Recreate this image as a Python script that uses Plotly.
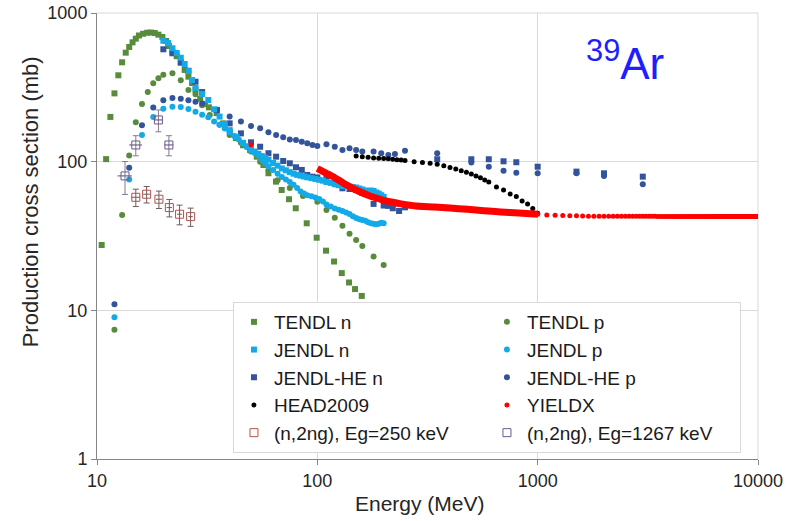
import plotly.graph_objects as go

# ---------------- data ----------------
tendl_n_E = [10.5, 11.0, 11.5, 12.0, 12.5, 13.0, 13.5, 14.0, 14.5, 15.0, 15.5, 16.2, 16.9, 17.6, 18.3, 19.0,
             19.8, 20.6, 21.2, 22.0, 23.0, 24.0, 25.0, 26.0, 27.0, 28.0, 29.4, 30.9, 32.2, 34.9, 37.4, 40.1,
             42.7, 46.0, 49.5, 53.1, 56.9, 60.0, 64.9, 68.9, 74.4, 79.8, 89.5, 99.3, 109.5, 119.1, 129.1,
             139.3, 148.3, 159.1]
tendl_n_xs = [27.5, 104, 200, 288, 381, 466, 541, 591, 635, 672, 706, 725, 737, 739, 733, 715,
              690, 648, 600, 547, 512, 463, 414, 373, 338, 303, 265, 244, 232, 212, 181, 159,
              144, 129, 120, 108, 95, 83.6, 73.4, 64.5, 55.9, 48.6, 38.5, 30.8, 25.2, 21.3, 17.8,
              15.4, 13.9, 12.5]

tendl_p_E = [12, 13, 14, 15, 16, 17, 18, 19, 20, 22, 24, 26, 28, 30, 32.5, 36, 40, 45, 50, 55, 60, 66,
             75, 86, 100, 110, 120, 130, 140, 150, 160, 180, 200]
tendl_p_xs = [7.4, 43.8, 110, 184, 244, 294, 337, 364, 385, 393, 353, 303, 284, 240, 206, 177, 151, 134,
              117, 100, 88, 75, 66.6, 58.8, 53.8, 47.3, 42.0, 37.0, 32.7, 29.7, 27.1, 23.0, 20.2]

jendl_n_E = [20, 21, 22, 23, 24, 25, 26, 27, 28, 30, 32, 34, 36, 38, 40, 43, 46, 48, 50, 52, 54, 56, 58,
             60, 63, 66, 69, 72, 75, 78, 81, 84, 87, 90, 94, 98, 102, 106, 110, 115, 120, 125, 130, 135,
             140, 145, 150, 155, 160, 165, 170, 175, 180, 185, 190, 195, 200]
jendl_n_xs = [651, 628, 579, 538, 500, 454, 407, 354, 313, 285, 260, 225, 201, 179, 163, 147, 134, 127,
              122, 117, 113, 109, 106, 103, 98, 94, 90, 87.5, 85, 83, 81.5, 80.5, 79.5, 78.5, 77.5, 76.5,
              75.5, 74.5, 73, 72, 70.5, 69.5, 68.5, 68.5, 68, 67.5, 67, 66, 65, 64, 63, 64, 63.5, 62, 61,
              59.5, 58]

jendl_p_E = [12, 14, 16, 18, 20, 22, 24, 26, 28, 30, 32, 34, 36, 38, 40, 42, 44, 46, 48, 50, 52, 54, 56,
             58, 60, 63, 66, 69, 72, 75, 78, 81, 84, 87, 90, 94, 98, 102, 106, 110, 115, 120, 125, 130,
             135, 140, 145, 150, 155, 160, 165, 170, 175, 180, 185, 190, 195, 200]
jendl_p_xs = [9.0, 76, 151, 200, 227, 234, 233, 226, 217, 207, 199, 186, 177, 167, 158, 149, 141, 133,
              125, 119, 114.5, 110, 103, 98, 93, 88, 83, 79, 76, 73, 70, 66.5, 63, 61, 59.5, 58.5, 57.5,
              56, 54, 51.5, 50, 48.5, 47.5, 46.5, 45.5, 44.5, 43, 41.8, 41, 40.5, 40, 39.2, 38.6, 38.2,
              38, 38.3, 38.8, 38.6]

jendlhe_n_E = [20, 22, 24, 26, 28, 30, 35, 40, 45, 50, 55, 60, 65, 70, 75, 80, 85, 90, 95, 100, 110, 120,
               130, 140, 150, 160, 180, 200, 210, 220, 235, 250, 350, 500, 600, 700, 800, 1000, 1500,
               2000, 3000]
jendlhe_n_xs = [570, 536, 466, 409, 345, 294, 223, 181, 155, 135, 126, 114, 108, 101, 97.5, 91.7, 88,
                81.4, 79.3, 78.3, 77.1, 74.7, 66.2, 65.5, 64.5, 61.6, 52, 50.7, 50.4, 48.6, 46.6, 49.3,
                103.8, 103.8, 103.8, 100.6, 99.1, 92.5, 85.7, 83.5, 79.3]

jendlhe_p_E = [12, 14, 16, 18, 20, 22, 24, 26, 28, 30, 35, 40, 45, 50, 55, 60, 65, 70, 75, 80, 85, 90, 95,
               100, 110, 120, 130, 140, 150, 160, 180, 195, 210, 225, 250, 350, 500, 600, 700, 800, 1000,
               1500, 2000, 3000]
jendlhe_p_xs = [11.0, 91, 176, 231, 259, 268, 265, 259, 253, 246, 223, 201, 186, 174, 168, 158, 151, 146,
                141, 140, 136, 133, 129.5, 127.5, 131, 126, 120, 123, 120, 117, 117, 114, 111, 112.6,
                118.6, 114, 98.8, 92.5, 87.0, 84.3, 83.5, 83.5, 80.1, 70.5]

head_E = [150, 160, 170, 180, 190, 200, 210, 220, 230, 240, 250, 275, 300, 325, 350, 375, 400, 425, 450,
          475, 500, 525, 550, 575, 600, 650, 700, 750, 800, 850, 900, 950, 1000]
head_xs = [109, 108, 107, 106, 105.5, 105, 104.5, 104, 103, 102.5, 102, 100, 98.8, 97.5, 96, 94, 91.4,
           89.3, 87, 84.9, 82.7, 80.2, 77.8, 75.3, 73.1, 67.6, 64.5, 60.7, 58.2, 54.4, 51.9, 48.4, 45.0]

# YIELDX: dense part (drawn as continuous thick trace) and sparse dots
yieldx_line_E = [100, 110, 120, 130, 140, 155, 170, 185, 200, 220, 240, 280, 340, 400, 480, 570, 680,
                 820, 1000]
yieldx_line_xs = [90, 83.5, 78, 72.5, 68, 63, 59.5, 57, 55, 53.3, 52, 50.3, 49.6, 48.8, 47.8, 46.8, 45.9,
                  45.1, 44.3]
yieldx_dot_E = [50] + list(range(1000, 10001, 100))
yieldx_dot_xs = [130,
                 44.3, 43.8, 43.6, 43.4, 43.3, 43.2, 43.1, 43.0, 43.0, 42.9,
                 42.9, 42.9, 42.9, 42.9, 42.9, 42.9, 42.9, 42.9, 42.9, 42.9,
                 42.9, 42.9, 42.9, 42.9, 42.9, 42.8, 42.8, 42.8, 42.8, 42.8,
                 42.8, 42.8, 42.8, 42.8, 42.8, 42.8, 42.8, 42.8, 42.8, 42.8,
                 42.8, 42.8, 42.8, 42.8, 42.8, 42.8, 42.8, 42.8, 42.8, 42.8,
                 42.8, 42.8, 42.8, 42.8, 42.8, 42.8, 42.8, 42.8, 42.8, 42.8,
                 42.8, 42.8, 42.8, 42.8, 42.8, 42.8, 42.8, 42.8, 42.8, 42.8,
                 42.8, 42.8, 42.8, 42.8, 42.8, 42.8, 42.8, 42.8, 42.8, 42.8,
                 42.8, 42.8, 42.8, 42.8, 42.8, 42.8, 42.8, 42.8, 42.8, 42.8,
                 42.8]

exp250_E = [15.0, 16.8, 19.1, 21.3, 23.7, 26.6]
exp250_xs = [57.6, 60.4, 55.9, 49.1, 44.3, 42.7]
exp250_dxs = [7.7, 7.7, 7.5, 6.6, 6.7, 6.0]
exp250_dE = [0.7, 0.6, 0.6, 0.6, 0.6, 0.6]

exp1267_E = [13.4, 15.0, 19.0, 21.2]
exp1267_xs = [80.2, 129.5, 190.8, 129.5]
exp1267_dxs = [20, 20, 32, 20]
exp1267_dE = [1.0, 1.0, 0.8, 1.0]

x_tickvals = [10, 100, 1000, 10000]
x_ticktext = ["10", "100", "1000", "10000"]
y_tickvals = [1, 10, 100, 1000]
y_ticktext = ["1", "10", "100", "1000"]

# ---------------- styling ----------------
GREEN = "#588B3B"
LBLUE = "#14AAE8"
DBLUE = "#33539B"
RED = "#FF0000"
GRID = "#d9d9d9"
TXT = "#262626"
FONT = "Liberation Sans, Arial, sans-serif"

fig = go.Figure()


def pts(name, x, y, symbol, color, size, rank, **kw):
    fig.add_trace(go.Scatter(x=x, y=y, name=name, mode="markers", legendrank=rank,
                             marker=dict(symbol=symbol, color=color, size=size, line=dict(width=0)),
                             **kw))


pts("TENDL n", tendl_n_E, tendl_n_xs, "square", GREEN, 6, 1)
pts("TENDL p", tendl_p_E, tendl_p_xs, "circle", GREEN, 6, 2)
pts("JENDL-HE p", jendlhe_p_E, jendlhe_p_xs, "circle", DBLUE, 6, 6)
pts("JENDL-HE n", jendlhe_n_E, jendlhe_n_xs, "square", DBLUE, 6, 5)
pts("JENDL p", jendl_p_E, jendl_p_xs, "circle", LBLUE, 6, 4)
pts("JENDL n", jendl_n_E, jendl_n_xs, "square", LBLUE, 6, 3)
pts("HEAD2009", head_E, head_xs, "circle", "#000000", 5, 7)

fig.add_trace(go.Scatter(x=yieldx_line_E, y=yieldx_line_xs, mode="lines", name="YIELDX",
                         legendgroup="yieldx", showlegend=False,
                         line=dict(color=RED, width=7, shape="spline", smoothing=0.6)))
pts("YIELDX", yieldx_dot_E, yieldx_dot_xs, "circle", RED, 5, 8, legendgroup="yieldx")

fig.add_trace(go.Scatter(
    x=exp250_E, y=exp250_xs, name="(n,2ng), Eg=250 keV", mode="markers", legendrank=9,
    marker=dict(symbol="square-open", color="#B4504B", size=8, line=dict(width=1)),
    error_y=dict(type="data", array=exp250_dxs, color="#6e5c5c", thickness=1, width=3),
    error_x=dict(type="data", array=exp250_dE, color="#6e5c5c", thickness=1, width=0)))
fig.add_trace(go.Scatter(
    x=exp1267_E, y=exp1267_xs, name="(n,2ng), Eg=1267 keV", mode="markers", legendrank=10,
    marker=dict(symbol="square-open", color="#6B5A8E", size=8, line=dict(width=1)),
    error_y=dict(type="data", array=exp1267_dxs, color="#857a92", thickness=1, width=3),
    error_x=dict(type="data", array=exp1267_dE, color="#5a4a70", thickness=1, width=0)))

axis_common = dict(
    type="log", showgrid=True, gridcolor=GRID, gridwidth=1, automargin=False,
    showline=True, linecolor="#868686", linewidth=1,
    ticks="outside", ticklen=5, tickcolor="#868686",
    tickfont=dict(family=FONT, size=18, color=TXT),
    zeroline=False,
)

fig.update_layout(
    width=792, height=521,
    margin=dict(l=97, r=34, t=13, b=62),
    paper_bgcolor="white", plot_bgcolor="white",
    font=dict(family=FONT, color=TXT),
    xaxis=dict(axis_common, range=[1, 4], tickvals=x_tickvals, ticktext=x_ticktext),
    yaxis=dict(axis_common, range=[0, 3], tickvals=y_tickvals, ticktext=y_ticktext),
    legend=dict(orientation="h", x=0.2057, y=0.352, xanchor="left", yanchor="top",
                entrywidth=208, entrywidthmode="pixels",
                font=dict(family=FONT, size=19, color="#1a1a1a"),
                bgcolor="white", bordercolor=GRID, borderwidth=1,
                traceorder="normal", tracegroupgap=0, itemclick=False),
    showlegend=True,
    shapes=[dict(type="line", xref="paper", yref="paper", x0=1, x1=1, y0=0, y1=1,
                 line=dict(color=GRID, width=1), layer="below"),
            dict(type="line", xref="paper", yref="paper", x0=0, x1=1, y0=1, y1=1,
                 line=dict(color=GRID, width=1), layer="below")],
    annotations=[
        dict(text="<sup>39</sup>Ar", xref="paper", yref="paper", x=0.799, y=0.893,
             xanchor="center", yanchor="middle", showarrow=False,
             font=dict(family=FONT, size=44, color="#1E1EFF")),
        dict(text="Energy (MeV)", xref="paper", yref="paper", x=0.4887, y=-0.0987,
             xanchor="center", yanchor="middle", showarrow=False,
             font=dict(family=FONT, size=21, color=TXT)),
        dict(text="Production cross section (mb)", xref="paper", yref="paper", x=-0.101, y=0.576,
             xanchor="center", yanchor="middle", showarrow=False, textangle=-90,
             font=dict(family=FONT, size=22, color=TXT)),
    ],
)

fig.write_html("out.html", config={"displayModeBar": False})
